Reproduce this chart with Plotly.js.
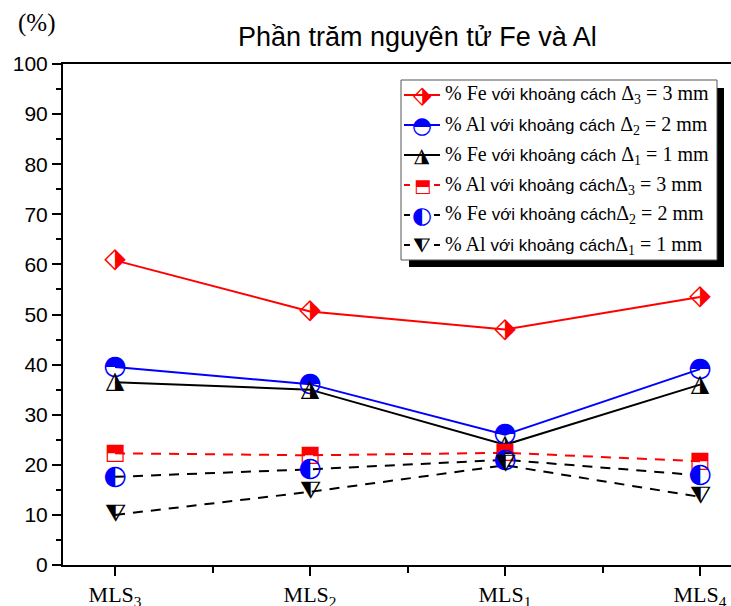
<!DOCTYPE html>
<html><head><meta charset="utf-8">
<script src="https://cdn.plot.ly/plotly-3.0.1.min.js"></script>
<style>body{margin:0;background:#fff}#c{width:731px;height:606px}</style>
</head><body><div id="c"></div>
<script>
const categories = ['MLS<sub>3</sub>','MLS<sub>2</sub>','MLS<sub>1</sub>','MLS<sub>4</sub>'];
const feD3 = [60.8, 50.6, 47.0, 53.5];
const alD2 = [39.5, 36.1, 26.0, 39.1];
const feD1 = [36.5, 35.0, 24.0, 36.0];
const alD3 = [22.3, 21.9, 22.4, 20.7];
const feD2 = [17.6, 19.1, 21.0, 17.9];
const alD1 = [10.0, 14.6, 19.9, 13.6];
const seriesNames = [
  '% Fe với khoảng cách Δ3 = 3 mm','% Al với khoảng cách Δ2 = 2 mm','% Fe với khoảng cách Δ1 = 1 mm',
  '% Al với khoảng cáchΔ3 = 3 mm','% Fe với khoảng cáchΔ2 = 2 mm','% Al với khoảng cáchΔ1 = 1 mm'];

const xs = categories.map((c,i)=>i);
const series = [
  {y: feD3, color:'#ff0000', dash:'solid', glyph:'\u2B17', gcolor:'#ff0000', gsize:28},
  {y: alD2, color:'#0000ff', dash:'solid', glyph:'\u25D3', gcolor:'#0000ff', gsize:27},
  {y: feD1, color:'#000000', dash:'solid', glyph:'\u25EE', gcolor:'#000000', gsize:24},
  {y: alD3, color:'#ff0000', dash:'dash', glyph:'\u2B12', gcolor:'#ff0000', gsize:22},
  {y: feD2, color:'#000000', dash:'dash', glyph:'\u25D0', gcolor:'#0000ff', gsize:27},
  {y: alD1, color:'#000000', dash:'dash', glyph:'\u29E8', gcolor:'#000000', gsize:24},
];
const traces = [];
series.forEach((s,i)=>{
  traces.push({x: xs, y: s.y, mode:'lines', name: seriesNames[i], showlegend:false,
    line:{color:s.color, width:2, dash: s.dash==='dash' ? '10px,8px' : 'solid'}, hoverinfo:'skip'});
});
series.forEach((s,i)=>{
  traces.push({x: xs, y: s.y, mode:'text', showlegend:false, text: s.y.map(()=>s.glyph),
    textposition:'middle center', textfont:{family:'DejaVu Sans', size:s.gsize, color:s.gcolor}, cliponaxis:false});
});

const L=63, R=731, T=64, B=565;
const px = v => (v-L)/(R-L);
const py = v => (B-v)/(B-T);

const shapes = [
  {type:'rect', xref:'paper', yref:'paper', x0:px(409), x1:px(724), y0:py(267), y1:py(88), fillcolor:'#000', line:{width:0}, layer:'above'},
  {type:'rect', xref:'paper', yref:'paper', x0:px(401), x1:px(717), y0:py(260), y1:py(80), fillcolor:'#fff', line:{width:1,color:'#555'}, layer:'above'},
];
const annotations = [
  {text:'(%)', xref:'paper', yref:'paper', x:px(36), y:py(23), showarrow:false, xanchor:'center', yanchor:'middle',
   font:{family:'Liberation Serif', size:25, color:'#000'}},
];
const legendRows = [
  ['% Fe ', ' Δ<sub>3</sub> = 3 mm'],
  ['% Al ', ' Δ<sub>2</sub> = 2 mm'],
  ['% Fe ', ' Δ<sub>1</sub> = 1 mm'],
  ['% Al ', 'Δ<sub>3</sub> = 3 mm'],
  ['% Fe ', 'Δ<sub>2</sub> = 2 mm'],
  ['% Al ', 'Δ<sub>1</sub> = 1 mm'],
];
legendRows.forEach((r,i)=>{
  const yc = 95 + i*30;
  const s = series[i];
  shapes.push({type:'line', xref:'paper', yref:'paper', x0:px(404), x1:px(440), y0:py(yc), y1:py(yc),
    line:{color:s.color, width:2, dash: s.dash==='dash' ? '6px,24px,6px' : 'solid'}, layer:'above'});
  annotations.push({text:s.glyph, xref:'paper', yref:'paper', x:px(422), y:py(yc), showarrow:false,
    xanchor:'center', yanchor:'middle', font:{family:'DejaVu Sans', size:s.gsize-4, color:s.gcolor}});
  annotations.push({text: r[0] + '<span style="font-family:Liberation Sans;font-size:17px">với khoảng cách</span>' + r[1],
    xref:'paper', yref:'paper', x:px(443), y:py(yc), showarrow:false, xanchor:'left', yanchor:'middle',
    font:{family:'Liberation Serif', size:20, color:'#000'}});
});

const layout = {
  width:731, height:606,
  margin:{l:L, r:0, t:T, b:606-B},
  paper_bgcolor:'#fff', plot_bgcolor:'#fff',
  title:{text:'Phần trăm nguyên tử Fe và Al', font:{family:'Liberation Sans', size:27, color:'#000'}, x:0.571, xanchor:'center', y:0.94, yanchor:'middle'},
  xaxis:{range:[-0.267, 3.159], tickmode:'array', tickvals:xs, ticktext:categories,
    showgrid:false, zeroline:false, showline:true, linecolor:'#000', linewidth:2, mirror:true,
    ticks:'outside', ticklen:9, tickwidth:2, tickcolor:'#000',
    minor:{dtick:0.5, tick0:0, ticks:'outside', ticklen:6, tickwidth:2, tickcolor:'#000'},
    tickfont:{family:'Liberation Serif', size:22, color:'#000'}},
  yaxis:{range:[0,100], dtick:10, showgrid:false, zeroline:false, showline:true, linecolor:'#000', linewidth:2,
    ticks:'outside', ticklen:9, tickwidth:2, tickcolor:'#000',
    minor:{dtick:5, ticks:'outside', ticklen:5, tickwidth:2, tickcolor:'#000'},
    tickfont:{family:'Liberation Sans', size:21, color:'#000'}},
  shapes, annotations, showlegend:false
};
Plotly.newPlot('c', traces, layout, {staticPlot:true});
</script></body></html>
